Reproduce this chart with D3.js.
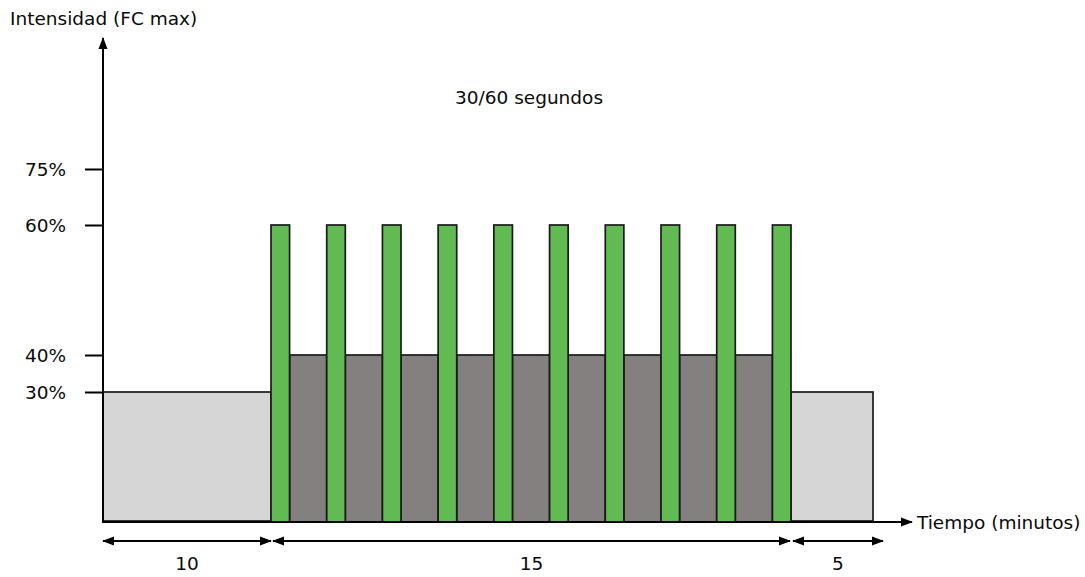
<!DOCTYPE html>
<html><head><meta charset="utf-8">
<script src="https://cdn.jsdelivr.net/npm/d3@7"></script>
<style>body{margin:0;background:#fff}svg{display:block}text{font-family:"DejaVu Sans",Verdana,sans-serif;fill:#0a0a0a}</style>
</head><body><svg id="c" width="1085" height="577"></svg>
<script>
// ---- data ----
const phaseNames = ["Calentamiento", "Intervalos", "Vuelta a la calma"];
const phaseMinutes = [10, 15, 5];
const phaseLabels = ["10", "15", "5"];
const warmIntensity = 30;
const coolIntensity = 30;
const workIntensity = 60;
const restIntensity = 40;
const workSeconds = 30;
const restSeconds = 60;
const repetitions = 10;
const yTickValues = [30, 40, 60, 75];
const yTickLabels = ["30%", "40%", "60%", "75%"];
const yTitle = "Intensidad (FC max)";
const xTitle = "Tiempo (minutos)";
const intervalTitle = "30/60 segundos";

// ---- layout ----
const svg = d3.select("#c");
const x0 = 103, yBase = 522, yTop = 38, xEnd = 912;
const phaseEdges = [0];
phaseMinutes.forEach(m => phaseEdges.push(phaseEdges[phaseEdges.length - 1] + m));
// schematic (non-proportional) time scale
const x = d3.scaleLinear().domain(phaseEdges).range([x0, 271, 791, 873]);
// schematic intensity scale
const y = d3.scaleLinear().domain([0, 30, 40, 60, 75]).range([yBase, 392, 355, 225, 169]);

// interval segments
const segs = [];
let t = 0;
for (let i = 0; i < repetitions; i++) {
  segs.push({type: "work", s: t, e: t + workSeconds, v: workIntensity}); t += workSeconds;
  if (i < repetitions - 1) { segs.push({type: "rest", s: t, e: t + restSeconds, v: restIntensity}); t += restSeconds; }
}
const xi = d3.scaleLinear().domain([0, t]).range([x(phaseEdges[1]), x(phaseEdges[2])]);

const defs = svg.append("defs");
defs.append("marker").attr("id", "ah").attr("viewBox", "0 0 12 12").attr("refX", 11).attr("refY", 6)
  .attr("markerWidth", 12).attr("markerHeight", 12).attr("markerUnits", "userSpaceOnUse")
  .attr("orient", "auto-start-reverse")
  .append("path").attr("d", "M0,1.5 L12,6 L0,10.5 Z").attr("fill", "#000");

const stroke = "#1a1a1a";
// warm-up & cool-down
svg.append("g").selectAll("rect").data([
  {s: phaseEdges[0], e: phaseEdges[1], v: warmIntensity},
  {s: phaseEdges[2], e: phaseEdges[3], v: coolIntensity}
]).join("rect")
  .attr("x", d => x(d.s)).attr("y", d => y(d.v))
  .attr("width", d => x(d.e) - x(d.s)).attr("height", d => y(0) - y(d.v) - 1)
  .attr("fill", "#d6d6d6").attr("stroke", stroke).attr("stroke-width", 1.7);

// rest then work bars
svg.append("g").selectAll("rect").data(segs.filter(d => d.type === "rest")).join("rect")
  .attr("x", d => xi(d.s)).attr("y", d => y(d.v))
  .attr("width", d => xi(d.e) - xi(d.s)).attr("height", d => y(0) - y(d.v))
  .attr("fill", "#858080").attr("stroke", stroke).attr("stroke-width", 1.7);
svg.append("g").selectAll("rect").data(segs.filter(d => d.type === "work")).join("rect")
  .attr("x", d => xi(d.s)).attr("y", d => y(d.v))
  .attr("width", d => xi(d.e) - xi(d.s)).attr("height", d => y(0) - y(d.v))
  .attr("fill", "#62bb52").attr("stroke", stroke).attr("stroke-width", 1.7);

// axes
svg.append("line").attr("x1", x0).attr("y1", yBase + 1).attr("x2", x0).attr("y2", yTop)
  .attr("stroke", "#000").attr("stroke-width", 2).attr("marker-end", "url(#ah)");
svg.append("line").attr("x1", x0 - 1).attr("y1", yBase).attr("x2", xEnd).attr("y2", yBase)
  .attr("stroke", "#000").attr("stroke-width", 2).attr("marker-end", "url(#ah)");

const yAxis = d3.axisLeft(y).tickValues(yTickValues).tickFormat((d, i) => yTickLabels[i]).tickSize(18).tickPadding(19);
const ga = svg.append("g").attr("transform", `translate(${x0},0)`).call(yAxis);
ga.select(".domain").remove();
ga.selectAll(".tick line").attr("stroke", "#000").attr("stroke-width", 2);
ga.selectAll(".tick text").style("font-size", "18.5px").attr("fill", "#0a0a0a").attr("font-family", "DejaVu Sans").attr("dy", "0.36em");

// titles
svg.append("text").attr("x", 10).attr("y", 25).style("font-size", "18.5px").text(yTitle);
svg.append("text").attr("x", 917).attr("y", 529).style("font-size", "18.5px").text(xTitle);
svg.append("text").attr("x", (xi(0) + xi(t)) / 2 - 2).attr("y", 104).attr("text-anchor", "middle").style("font-size", "18.5px").text(intervalTitle);

// duration arrows
const dims = phaseMinutes.map((m, i) => ({
  a: x(phaseEdges[i]) + (i === 0 ? 0 : 2),
  b: x(phaseEdges[i + 1]) - (i === 1 ? 1 : 0) + (i === 2 ? 10 : 0),
  label: phaseLabels[i]
}));
const gd = svg.append("g");
gd.selectAll("line").data(dims).join("line")
  .attr("x1", d => d.a).attr("x2", d => d.b).attr("y1", 541).attr("y2", 541)
  .attr("stroke", "#000").attr("stroke-width", 2)
  .attr("marker-start", "url(#ah)").attr("marker-end", "url(#ah)");
gd.selectAll("text").data(dims).join("text")
  .attr("x", d => (d.a + d.b) / 2).attr("y", 570).attr("text-anchor", "middle")
  .style("font-size", "18.5px").text(d => d.label);
</script></body></html>
